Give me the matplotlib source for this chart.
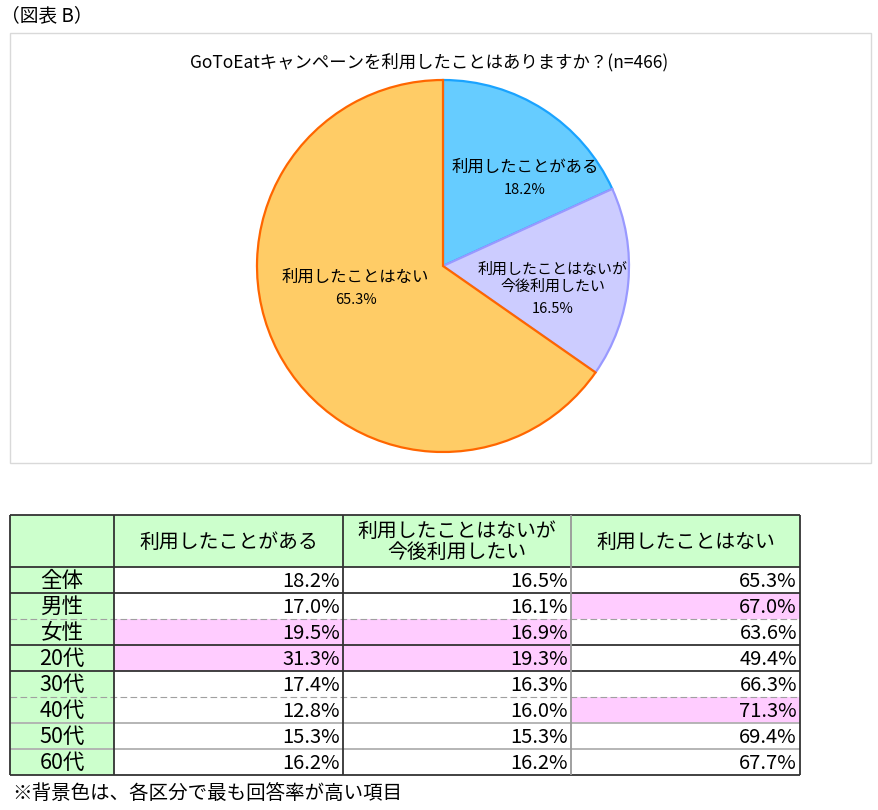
import matplotlib
matplotlib.use("Agg")
import matplotlib.pyplot as plt
from matplotlib.patches import Rectangle

plt.rcParams['font.family'] = ['Noto Sans CJK JP', 'DejaVu Sans']

# ---------------- data ----------------
pie_title = "GoToEatキャンペーンを利用したことはありますか？(n=466)"
pie_labels = ["利用したことがある", "利用したことはないが\n今後利用したい", "利用したことはない"]
pie_values = [18.2, 16.5, 65.3]

col_headers = ["利用したことがある", "利用したことはないが\n今後利用したい", "利用したことはない"]
row_labels = ["全体", "男性", "女性", "20代", "30代", "40代", "50代", "60代"]
used = [18.2, 17.0, 19.5, 31.3, 17.4, 12.8, 15.3, 16.2]
want = [16.5, 16.1, 16.9, 19.3, 16.3, 16.0, 15.3, 16.2]
never = [65.3, 67.0, 63.6, 49.4, 66.3, 71.3, 69.4, 67.7]
groups = [[0], [1, 2], [3, 4, 5, 6, 7]]

footnote = "※背景色は、各区分で最も回答率が高い項目"
fig_label = "（図表 B）"

# ---------------- styles ----------------
W, H = 879, 810
fig = plt.figure(figsize=(W / 100, H / 100), dpi=100)
fig.patch.set_facecolor("white")

# background axes in pixel coordinates (for frame & free text)
bg = fig.add_axes([0, 0, 1, 1])
bg.set_xlim(0, W)
bg.set_ylim(H, 0)
bg.axis("off")

bg.text(1, 16, fig_label, fontsize=13.5, va="center", ha="left")
bg.add_patch(Rectangle((10, 33), 861, 430, fill=False, edgecolor="#D9D9D9", linewidth=1.0))
bg.text(429, 62, pie_title, fontsize=12.5, va="center", ha="center")
bg.text(12, 793, footnote, fontsize=14, va="center", ha="left")

# ---------------- pie ----------------
cx, cy, r = 443, 266, 186
pad = 1.02
pr = r * pad
pax = fig.add_axes([(cx - pr) / W, 1 - (cy + pr) / H, 2 * pr / W, 2 * pr / H])
fills = ["#66CCFF", "#CCCCFF", "#FFCC66"]
edges = ["#1AA3FF", "#9999FF", "#FF6600"]
wedges, _ = pax.pie(pie_values, colors=fills, startangle=90, counterclock=False,
                    radius=1.0, wedgeprops=dict(linewidth=1.6))
for w, ec in zip(wedges, edges):
    w.set_edgecolor(ec)
pax.set_xlim(-pad, pad)
pax.set_ylim(-pad, pad)
pax.set_aspect("equal")

# label centres (x, y of the name block) and pct offsets, in pie radius units
label_pos = [(0.44, 0.53), (0.59, -0.065), (-0.47, -0.06)]
pct_pos = [(0.44, 0.41), (0.59, -0.23), (-0.47, -0.185)]
label_sizes = [11.8, 10.8, 11.8]
for (lx, ly), (px, py), lab, val, fs in zip(label_pos, pct_pos, pie_labels, pie_values, label_sizes):
    pax.text(lx, ly, lab, ha="center", va="center", fontsize=fs, linespacing=1.3)
    pax.text(px, py, f"{val:.1f}%", ha="center", va="center", fontsize=10.5)

# ---------------- table ----------------
col_w = [104, 229, 228, 229]
head_h = 52
row_h = 26
tx0, ty0 = 10, 515
tw = sum(col_w)
th = head_h + row_h * len(row_labels)
tax = fig.add_axes([tx0 / W, 1 - (ty0 + th) / H, tw / W, th / H])
tax.set_xlim(0, tw)
tax.set_ylim(th, 0)
tax.axis("off")

green = "#CCFFCC"
pink = "#FFCCFF"
dark = "#333333"

cols = [used, want, never]
highlight = [[False] * 3 for _ in row_labels]
for g in groups:
    if len(g) < 2:
        continue
    for c, series in enumerate(cols):
        best = max(g, key=lambda i: series[i])
        highlight[best][c] = True

xs = [0]
for w_ in col_w:
    xs.append(xs[-1] + w_)
ys = [0, head_h] + [head_h + row_h * (i + 1) for i in range(len(row_labels))]

# header row
tax.add_patch(Rectangle((0, 0), tw, head_h, facecolor=green, edgecolor="none"))
for c, hdr in enumerate(col_headers):
    tax.text((xs[c + 1] + xs[c + 2]) / 2, head_h / 2 + 1, hdr, ha="center", va="center",
             fontsize=14.3, linespacing=1.0)

# data rows
for i, rl in enumerate(row_labels):
    y0 = ys[i + 1]
    tax.add_patch(Rectangle((0, y0), col_w[0], row_h, facecolor=green, edgecolor="none"))
    tax.text(col_w[0] / 2, y0 + row_h / 2 + 1, rl, ha="center", va="center", fontsize=15.5)
    for c, series in enumerate(cols):
        if highlight[i][c]:
            tax.add_patch(Rectangle((xs[c + 1], y0), col_w[c + 1], row_h,
                                    facecolor=pink, edgecolor="none"))
        tax.text(xs[c + 2] - 3, y0 + row_h / 2 + 1.5, f"{series[i]:.1f}%",
                 ha="right", va="center", fontsize=14.5)

# horizontal rules
hstyles = [("dark", "-"), ("dark", "-"), ("dark", "-"), ("gray", "--"), ("dark", "-"),
           ("dark", "-"), ("gray", "--"), ("gray2", "-"), ("gray2", "-"), ("dark", "-")]
cmap = {"dark": (dark, 1.3), "gray": ("#A0A0A0", 0.8), "gray2": ("#B0B0B0", 1.3)}
for y, (kind, ls) in zip(ys, hstyles):
    col_, lw = cmap[kind]
    tax.plot([0, tw], [y, y], color=col_, lw=lw, ls=ls if ls == "-" else (0, (6, 3)),
             solid_capstyle="butt", clip_on=False)

# vertical rules
vstyles = [(dark, 1.3), (dark, 1.3), (dark, 1.3), ("#999999", 1.3), (dark, 1.3)]
for x, (col_, lw) in zip(xs, vstyles):
    tax.plot([x, x], [0, th], color=col_, lw=lw, solid_capstyle="butt", clip_on=False)

fig.savefig("out.png", dpi=100)
